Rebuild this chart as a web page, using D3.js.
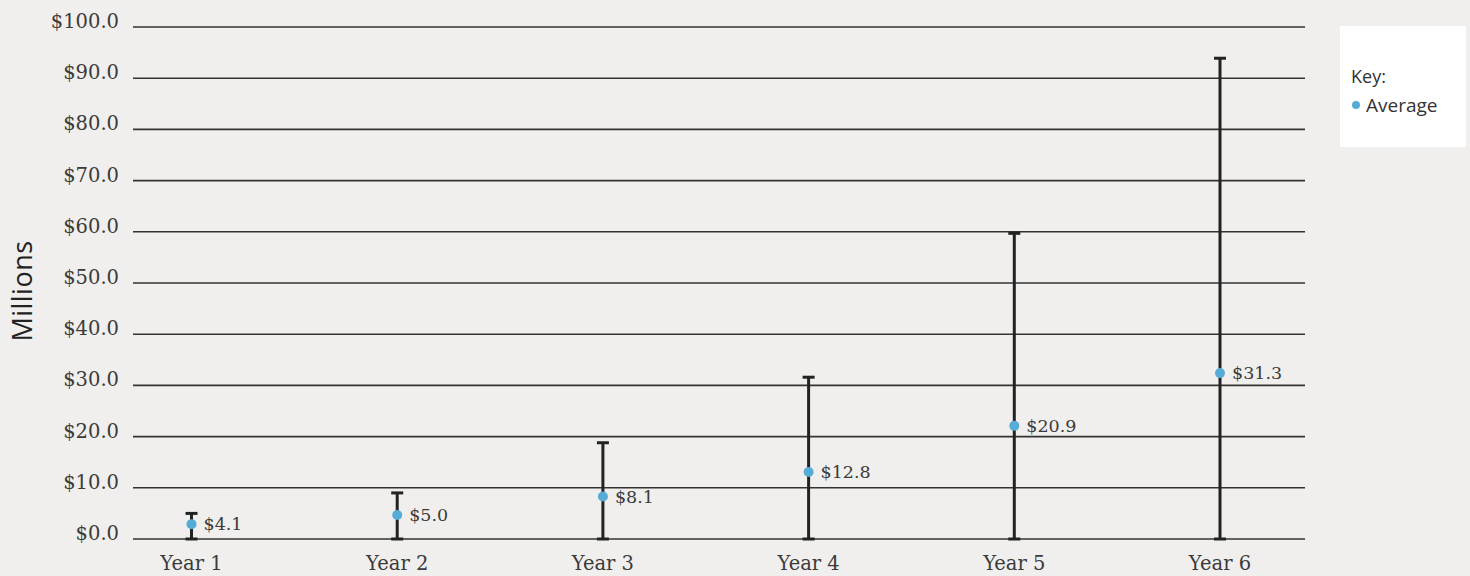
<!DOCTYPE html>
<html>
<head>
<meta charset="utf-8">
<script src="https://cdn.jsdelivr.net/npm/d3@7"></script>
<style>
  html, body { margin: 0; padding: 0; background: #f0efed; }
  svg { display: block; }
  .serif { font-family: "DejaVu Serif", "Liberation Serif", serif; font-variant-numeric: oldstyle-nums; fill: #3b3b3b; }
  .sans { font-family: "Open Sans", "Lato", sans-serif; fill: #333; }
</style>
</head>
<body>
<svg id="chart" width="1470" height="576"></svg>
<script>
const categories = ["Year 1", "Year 2", "Year 3", "Year 4", "Year 5", "Year 6"];
const averageValues = [2.9, 4.7, 8.3, 13.1, 22.1, 32.4];
const averageLabels = ["$4.1", "$5.0", "$8.1", "$12.8", "$20.9", "$31.3"];
const lowValues = [0, 0, 0, 0, 0, 0];
const highValues = [5.0, 9.0, 18.8, 31.6, 59.7, 93.9];
const yTicks = [0, 10, 20, 30, 40, 50, 60, 70, 80, 90, 100];
const yAxisTitle = "Millions";
const legendTitle = "Key:";
const legendItem = "Average";

const svg = d3.select("#chart");
const x = d3.scalePoint().domain(categories).range([191.5, 1220]);
const y = d3.scaleLinear().domain([0, 100]).range([539, 27]);
const gridLeft = 133, gridRight = 1305;
const dotColor = "#56acd6";

// gridlines
svg.append("g").selectAll("line").data(yTicks).join("line")
  .attr("x1", gridLeft).attr("x2", gridRight)
  .attr("y1", d => y(d)).attr("y2", d => y(d))
  .attr("stroke", "#333").attr("stroke-width", 1.6);

// y tick labels
svg.append("g").selectAll("text").data(yTicks).join("text")
  .attr("class", "serif")
  .attr("x", 119).attr("y", d => y(d) + 1)
  .attr("text-anchor", "end")
  .attr("font-size", 19.5)
  .text(d => "$" + d3.format(".1f")(d));

// x labels
svg.append("g").selectAll("text").data(categories).join("text")
  .attr("class", "serif")
  .attr("x", d => x(d)).attr("y", 570)
  .attr("text-anchor", "middle")
  .attr("font-size", 19.5)
  .text(d => d);

// y title
svg.append("text").attr("class", "sans")
  .attr("transform", "translate(32,291) rotate(-90)")
  .attr("text-anchor", "middle")
  .attr("font-size", 27)
  .attr("letter-spacing", 0.5)
  .style("fill", "#222")
  .text(yAxisTitle);

const data = categories.map((c, i) => ({c, avg: averageValues[i], lab: averageLabels[i], lo: lowValues[i], hi: highValues[i]}));

const eb = svg.append("g").selectAll("g").data(data).join("g");
eb.append("line")
  .attr("x1", d => x(d.c)).attr("x2", d => x(d.c))
  .attr("y1", d => y(d.lo)).attr("y2", d => y(d.hi))
  .attr("stroke", "#222").attr("stroke-width", 3);
eb.append("line")
  .attr("x1", d => x(d.c) - 6).attr("x2", d => x(d.c) + 6)
  .attr("y1", d => y(d.hi)).attr("y2", d => y(d.hi))
  .attr("stroke", "#222").attr("stroke-width", 3);
eb.append("line")
  .attr("x1", d => x(d.c) - 6).attr("x2", d => x(d.c) + 6)
  .attr("y1", d => y(d.lo)).attr("y2", d => y(d.lo))
  .attr("stroke", "#222").attr("stroke-width", 3);
eb.append("circle")
  .attr("cx", d => x(d.c)).attr("cy", d => y(d.avg))
  .attr("r", 5).attr("fill", dotColor);
eb.append("text").attr("class", "serif")
  .attr("x", d => x(d.c) + 12).attr("y", d => y(d.avg) + 6)
  .attr("font-size", 17.5)
  .text(d => d.lab);

// legend
const lg = svg.append("g");
lg.append("rect").attr("x", 1340).attr("y", 26).attr("width", 126).attr("height", 121).attr("fill", "#fff");
lg.append("text").attr("class", "sans").attr("x", 1351).attr("y", 83).attr("font-size", 18).text(legendTitle);
lg.append("circle").attr("cx", 1356).attr("cy", 105).attr("r", 4).attr("fill", dotColor);
lg.append("text").attr("class", "sans").attr("x", 1366).attr("y", 112).attr("font-size", 19).text(legendItem);
</script>
</body>
</html>
